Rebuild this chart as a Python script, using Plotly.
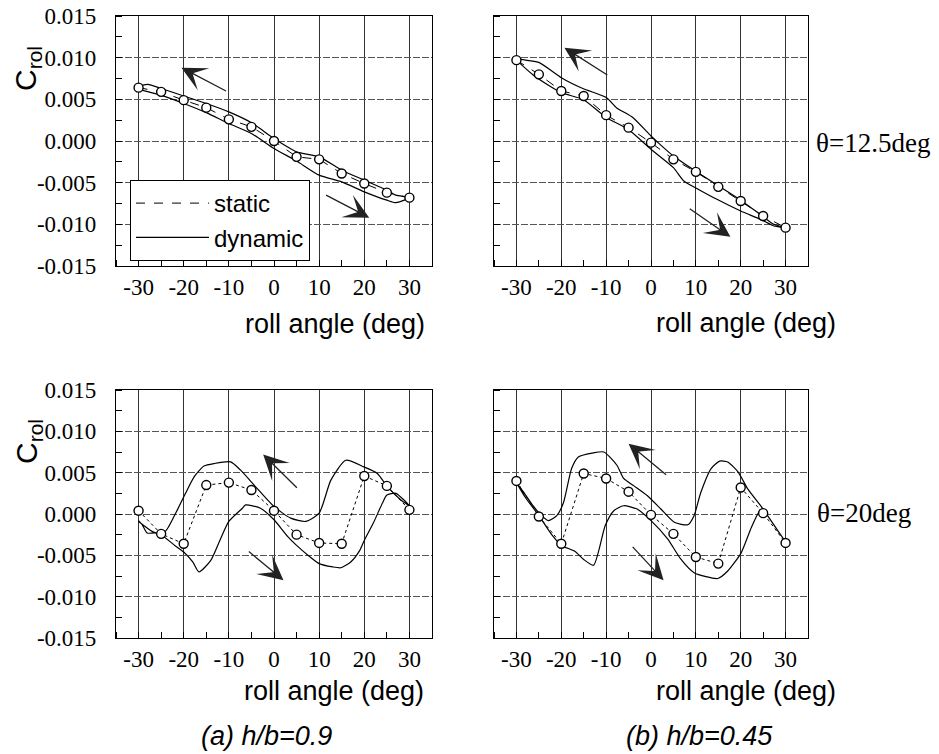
import plotly.graph_objects as go

# ---------------- data ----------------
angles = [-30, -25, -20, -15, -10, -5, 0, 5, 10, 15, 20, 25, 30]

# (a) h/b=0.9, theta=12.5deg
static_a125 = [0.0064, 0.0059, 0.0049, 0.0040, 0.0026, 0.0017, 0.0000, -0.0019, -0.0022, -0.0039, -0.0051, -0.0062, -0.0068]
dyn_a125_x = [-30, -25, -20, -15, -10, -5, 0, 5, 10, 15, 20, 25, 27, 30,
              27, 25, 20, 15, 10, 5, 0, -5, -10, -15, -20, -25, -28, -30]
dyn_a125_y = [0.0062, 0.0055, 0.0045, 0.0034, 0.0021, 0.0009, -0.0009, -0.0024, -0.0041, -0.0049, -0.0061, -0.0071, -0.0074, -0.0068,
              -0.0065, -0.0059, -0.0047, -0.0035, -0.0019, -0.0013, 0.0003, 0.0022, 0.0035, 0.0045, 0.0054, 0.0063, 0.0068, 0.0066]

# (b) h/b=0.45, theta=12.5deg
static_b125 = [0.0097, 0.0080, 0.0060, 0.0054, 0.0031, 0.0016, -0.0002, -0.0022, -0.0037, -0.0055, -0.0072, -0.0090, -0.0104]
dyn_b125_x = [-30, -26, -20, -15.2, -9.9, -5.1, 0, 5, 7.3, 9.9, 14.7, 20, 24.4, 27.4, 30,
              27.4, 24.8, 20, 15.1, 9.9, 5, 2, 0, -4, -7.7, -9.9, -15.2, -20, -24.9, -27.9, -30]
dyn_b125_y = [0.0097, 0.0078, 0.0058, 0.0050, 0.0028, 0.0014, -0.0010, -0.0032, -0.0048, -0.0056, -0.0070, -0.0084, -0.0094, -0.0102, -0.0104,
              -0.0100, -0.0090, -0.0071, -0.0054, -0.0036, -0.0018, -0.0004, 0.0006, 0.0028, 0.0040, 0.0052, 0.0063, 0.0076, 0.0094, 0.0097, 0.0099]

# (a) h/b=0.9, theta=20deg
static_a20 = [0.0004, -0.0024, -0.0036, 0.0035, 0.0038, 0.0029, 0.0004, -0.0025, -0.0035, -0.0036, 0.0046, 0.0034, 0.0005]
dyn_a20_x = [-30, -27, -25, -22, -20, -18, -16.6, -14, -12, -10, -7, -6.3, -3, 0, 3, 5, 8, 10, 13, 14.8, 17, 19, 20, 22, 24, 25, 27, 30,
             28.1, 25.1, 22.9, 19.9, 15.9, 12.6, 10, 7, 3.7, 0, -4.4, -7.4, -9.6, -13.3, -15.5, -17.7, -19.6, -21.4, -23.3, -24.4, -26.6, -28.1, -29.2, -30]
dyn_a20_y = [-0.0009, -0.0021, -0.0025, -0.0038, -0.0046, -0.0058, -0.0070, -0.0056, -0.0032, -0.0009, 0.0007, 0.0011, 0.0007, -0.0007, -0.0027, -0.0038, -0.0052, -0.0060, -0.0064, -0.0065, -0.0058, -0.0044, -0.0032, -0.0011, 0.0013, 0.0023, 0.0025, 0.0010,
             0.0017, 0.0033, 0.0049, 0.0057, 0.0065, 0.0041, 0.0001, -0.0009, -0.0005, 0.0009, 0.0035, 0.0053, 0.0063, 0.0061, 0.0058, 0.0045, 0.0025, 0.0005, -0.0015, -0.0023, -0.0023, -0.0023, -0.0013, -0.0008]

# (b) h/b=0.45, theta=20deg
static_b20 = [0.0040, -0.0003, -0.0036, 0.0049, 0.0043, 0.0027, -0.0001, -0.0024, -0.0052, -0.0060, 0.0032, 0.0001, -0.0035]
dyn_b20_x = [-30, -28, -25, -22, -20, -17, -15, -12.8, -10.2, -8.3, -6.1, -3.1, 0, 3.7, 6.7, 9.6, 14.9, 17.1, 20.1, 22.4, 24.6, 28, 30,
             28.5, 25, 21.6, 19.4, 17.1, 15.3, 13.4, 11.1, 9.6, 8.2, 5.2, 2.2, -0.8, -3.8, -6.1, -7.6, -10.5, -12.8, -16.2, -17.7, -19.5, -21, -22.9, -24.4, -26.3, -28.1, -30]
dyn_b20_y = [0.0038, 0.0020, -0.0002, -0.0026, -0.0038, -0.0045, -0.0055, -0.0062, -0.0014, 0.0004, 0.0010, 0.0006, -0.0008, -0.0030, -0.0055, -0.0071, -0.0078, -0.0069, -0.0047, -0.0016, 0.0006, -0.0018, -0.0034,
             -0.0022, 0.0006, 0.0030, 0.0051, 0.0063, 0.0064, 0.0055, 0.0026, -0.0002, -0.0013, -0.0010, 0.0006, 0.0022, 0.0034, 0.0043, 0.0059, 0.0075, 0.0074, 0.0069, 0.0055, 0.0014, -0.0002, -0.0008, -0.0002, 0.0010, 0.0024, 0.0038]

# direction arrows: (tail_x, tail_y, head_x, head_y)
arrows_a125 = [(-10.3, 0.0059, -20.5, 0.0088), (11.2, -0.0064, 21.1, -0.0092)]
arrows_b125 = [(-9.4, 0.0078, -19.3, 0.0112), (8.3, -0.0080, 17.7, -0.0115)]
arrows_a20 = [(5.4, 0.0030, -2.4, 0.0072), (-5.9, -0.0044, 2.1, -0.0080)]
arrows_b20 = [(3.7, 0.0046, -5.0, 0.0085), (-4.4, -0.0038, 2.8, -0.0080)]

x_tickvals = [-30, -20, -10, 0, 10, 20, 30]
x_ticktext = ["-30", "-20", "-10", "0", "10", "20", "30"]
y_tickvals = [-0.015, -0.010, -0.005, 0.0, 0.005, 0.010, 0.015]
y_ticktext = ["-0.015", "-0.010", "-0.005", "0.000", "0.005", "0.010", "0.015"]

# ---------------- figure ----------------
# page body has an 8px margin; the figure is sized so that it fills the window
OFF = 8
W, H = 939 - OFF, 754 - OFF

def fx(px):
    return (px - OFF) / W

def fy(py):
    return 1 - (py - OFF) / H

fig = go.Figure()

panels = [
    ("", static_a125, dyn_a125_x, dyn_a125_y, arrows_a125, "dash"),
    ("2", static_b125, dyn_b125_x, dyn_b125_y, arrows_b125, "dash"),
    ("3", static_a20, dyn_a20_x, dyn_a20_y, arrows_a20, "dot"),
    ("4", static_b20, dyn_b20_x, dyn_b20_y, arrows_b20, "dot"),
]

annotations = []
for idx, (sfx, st, dx, dy, arrs, dsh) in enumerate(panels):
    xr, yr = "x" + sfx, "y" + sfx
    first = idx == 0
    fig.add_trace(go.Scatter(x=dx, y=dy, mode="lines", name="dynamic",
                             line=dict(color="black", width=1.2, shape="spline", smoothing=0.6),
                             xaxis=xr, yaxis=yr, showlegend=first, legendrank=2))
    fig.add_trace(go.Scatter(x=angles, y=st, mode="lines", name="static",
                             line=dict(color="black", width=1, dash=dsh),
                             xaxis=xr, yaxis=yr, showlegend=first, legendrank=1))
    fig.add_trace(go.Scatter(x=angles, y=st, mode="markers", name="static pts",
                             marker=dict(symbol="circle", size=9, color="white",
                                         line=dict(color="black", width=1.4)),
                             xaxis=xr, yaxis=yr, showlegend=False))
    for (tx, ty, hx, hy) in arrs:
        annotations.append(dict(x=hx, y=hy, ax=tx, ay=ty, xref=xr, yref=yr,
                                axref=xr, ayref=yr, showarrow=True, arrowhead=3,
                                arrowsize=3.2, arrowwidth=1.3, arrowcolor="#222", text=""))

xdom = [[fx(116), fx(432)], [fx(494), fx(808)]]
ydom = [[fy(266), fy(16)], [fy(638), fy(390)]]

tickfont = dict(family="Liberation Serif, Times New Roman, serif", size=23, color="black")

def xaxis_cfg(dom, anchor):
    return dict(domain=dom, anchor=anchor, range=[-35, 35], tickvals=x_tickvals, ticktext=x_ticktext,
                automargin=False, ticklabeloverflow="allow",
                showgrid=True, gridcolor="#333", gridwidth=1, zeroline=False,
                showline=True, linecolor="black", linewidth=1.2, mirror=True,
                ticks="", tickfont=tickfont, ticklabelstandoff=0,
                minor=dict(ticks="inside", ticklen=6, tickcolor="black", dtick=5, tick0=0, showgrid=False))

def yaxis_cfg(dom, anchor, labels):
    return dict(domain=dom, anchor=anchor, range=[-0.015, 0.015], tickvals=y_tickvals, ticktext=y_ticktext,
                automargin=False, ticklabeloverflow="allow",
                showgrid=True, gridcolor="#555", gridwidth=1, griddash="7px,2px", zeroline=False,
                showline=True, linecolor="black", linewidth=1.2, mirror=True,
                ticks="", tickfont=tickfont, showticklabels=labels, ticklabelstandoff=14,
                minor=dict(ticks="inside", ticklen=6, tickcolor="black", dtick=0.0025, tick0=0, showgrid=False))

layout = dict(
    width=W, height=H, margin=dict(l=0, r=0, t=0, b=0, pad=0, autoexpand=False),
    paper_bgcolor="white", plot_bgcolor="white",
    showlegend=True,
    legend=dict(x=fx(130), y=fy(180), xanchor="left", yanchor="top",
                bgcolor="white", bordercolor="black", borderwidth=1,
                font=dict(family="Liberation Sans, Arial, sans-serif", size=24, color="black"),
                itemwidth=73, tracegroupgap=0),
    xaxis=xaxis_cfg(xdom[0], "y"), yaxis=yaxis_cfg(ydom[0], "x", True),
    xaxis2=xaxis_cfg(xdom[1], "y2"), yaxis2=yaxis_cfg(ydom[0], "x2", False),
    xaxis3=xaxis_cfg(xdom[0], "y3"), yaxis3=yaxis_cfg(ydom[1], "x3", True),
    xaxis4=xaxis_cfg(xdom[1], "y4"), yaxis4=yaxis_cfg(ydom[1], "x4", False),
)

sans = "Liberation Sans, Arial, sans-serif"
serif = "Liberation Serif, Times New Roman, serif"

def paper_text(txt, px, py, size, family, italic=False, angle=0):
    return dict(text=txt, x=fx(px), y=fy(py), xref="paper", yref="paper",
                showarrow=False, xanchor="center", yanchor="middle", textangle=angle,
                font=dict(family=family, size=size, color="black",
                          style="italic" if italic else "normal"))

annotations += [
    paper_text("roll angle (deg)", 335, 324, 27, sans),
    paper_text("roll angle (deg)", 746, 323, 27, sans),
    paper_text("roll angle (deg)", 334, 691, 27, sans),
    paper_text("roll angle (deg)", 746, 691, 27, sans),
    paper_text("C<sub>rol</sub>", 28, 69, 30, sans, angle=-90),
    paper_text("C<sub>rol</sub>", 28, 442, 30, sans, angle=-90),
    paper_text("θ=12.5deg", 873, 143, 27, serif),
    paper_text("θ=20deg", 864, 513, 27, serif),
    paper_text("(a) h/b=0.9", 266, 736, 27, sans, italic=True),
    paper_text("(b) h/b=0.45", 699, 736, 27, sans, italic=True),
]
layout["annotations"] = annotations
fig.update_layout(**layout)

fig.write_html("out.html")
